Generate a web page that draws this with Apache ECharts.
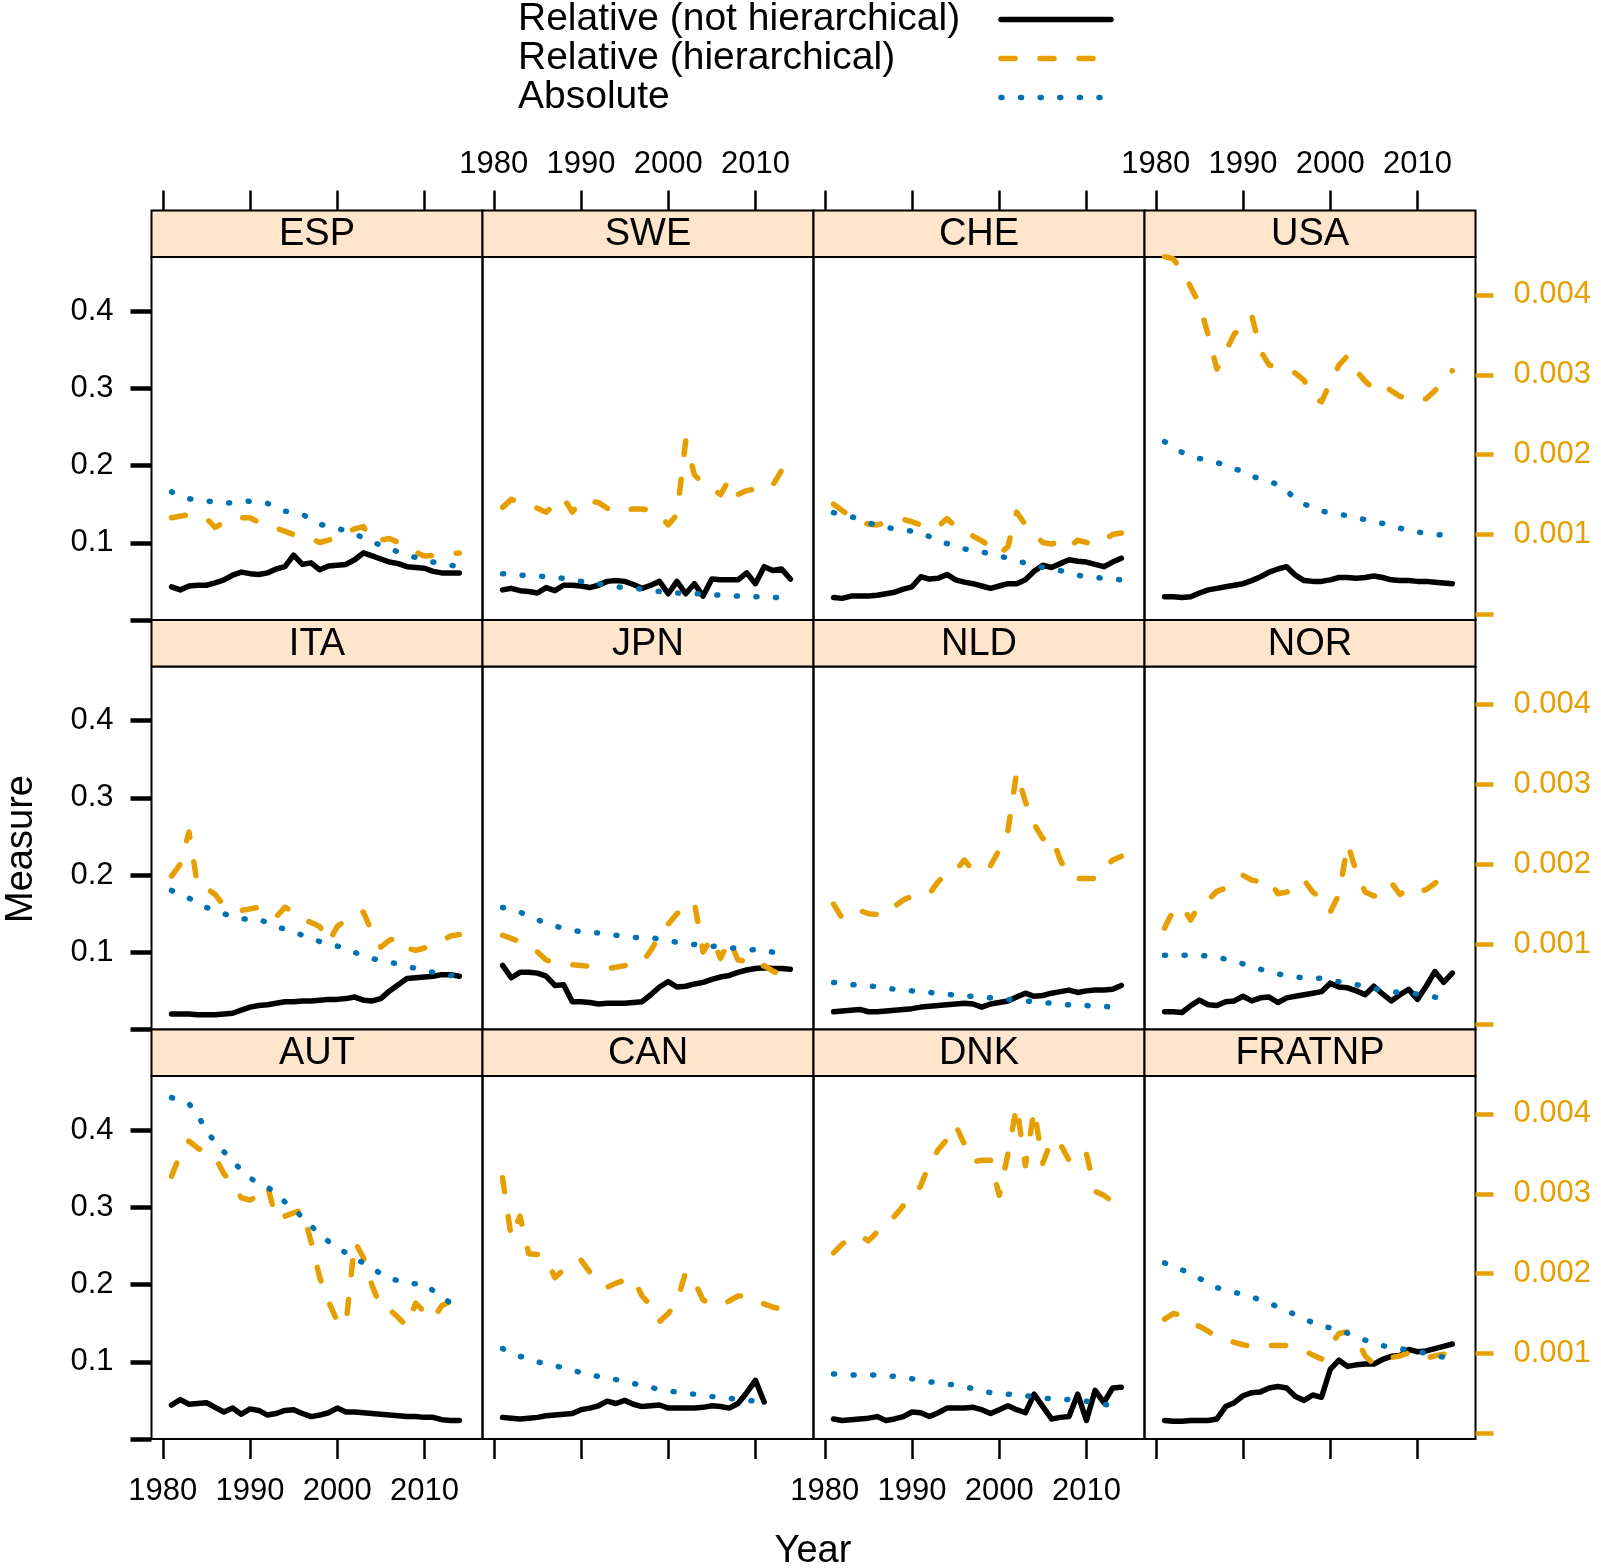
<!DOCTYPE html>
<html><head><meta charset="utf-8">
<script src="https://cdn.jsdelivr.net/npm/echarts@6/dist/echarts.min.js"></script>
<style>html,body{margin:0;padding:0;background:#fff}#c{width:1601px;height:1568px}</style>
</head><body><div id="c"></div>
<script>
// ---------- data ----------
const years = [1981,1982,1983,1984,1985,1986,1987,1988,1989,1990,1991,1992,1993,1994,1995,1996,1997,1998,1999,2000,2001,2002,2003,2004,2005,2006,2007,2008,2009,2010,2011,2012,2013,2014];
const countries = ['ESP','SWE','CHE','USA','ITA','JPN','NLD','NOR','AUT','CAN','DNK','FRATNP'];
const seriesNames = ['Relative (not hierarchical)','Relative (hierarchical)','Absolute'];
const xTicks = [1980,1990,2000,2010];
const leftTicks = [0,0.1,0.2,0.3,0.4];
const leftLabels = [0.1,0.2,0.3,0.4];
const rightTicks = [0,0.001,0.002,0.003,0.004];
const rightLabels = [0.001,0.002,0.003,0.004];

const ESP_rel = [.043,.039,.044,.045,.045,.048,.052,.058,.062,.060,.059,.061,.066,.069,.084,.072,.074,.065,.070,.071,.072,.078,.087,.083,.079,.075,.073,.069,.068,.067,.063,.061,.061,.061];
const ESP_hier = [.00121,.00123,.00125,.00122,.00120,.00109,.00115,.00121,.00121,.00121,.00115,.00111,.00108,.00104,.00100,.00098,.00095,.00090,.00093,.00097,.00103,.00107,.00110,.00092,.00093,.00095,.00090,.00082,.00078,.00073,.00074,.00075,.00076,.00077];
const ESP_abs = [.166,.161,.157,.155,.154,.153,.151,.152,.153,.154,.153,.151,.146,.141,.139,.137,.130,.124,.121,.119,.115,.112,.106,.101,.097,.093,.088,.084,.081,.078,.075,.073,.071,.069];

const SWE_rel = [.039,.041,.038,.037,.035,.042,.038,.045,.045,.044,.042,.045,.050,.051,.050,.046,.041,.045,.050,.034,.050,.034,.047,.031,.053,.052,.052,.052,.061,.047,.069,.064,.066,.053];
const SWE_hier = [.00134,.00144,.00140,.00135,.00133,.00128,.00138,.00146,.00128,.00142,.00142,.00140,.00133,.00128,.00131,.00132,.00132,.00130,.00125,.00112,.00125,.00217,.00175,.00163,.00158,.00150,.00169,.00150,.00155,.00157,.00155,.00162,.00180,.00165];
const SWE_abs = [.060,.059,.058,.058,.057,.056,.055,.054,.052,.050,.048,.047,.045,.043,.042,.041,.040,.038,.037,.036,.035,.034,.034,.034,.033,.032,.032,.031,.031,.030,.030,.029,.029,.028];

const CHE_rel = [.029,.028,.031,.031,.031,.032,.034,.036,.040,.043,.056,.053,.054,.059,.052,.049,.047,.044,.041,.044,.047,.047,.052,.063,.071,.068,.073,.078,.076,.075,.072,.069,.075,.080];
const CHE_hier = [.00138,.00130,.00122,.00116,.00113,.00112,.00115,.00118,.00119,.00116,.00112,.00108,.00110,.00120,.00110,.00105,.00098,.00092,.00085,.00075,.00085,.00128,.00112,.00100,.00090,.00088,.00092,.00084,.00093,.00090,.00087,.00093,.00100,.00102];
const CHE_abs = [.139,.136,.134,.130,.126,.122,.120,.118,.117,.115,.113,.108,.103,.099,.095,.092,.090,.088,.086,.083,.080,.076,.074,.071,.068,.066,.064,.061,.058,.056,.055,.054,.053,.052];

const USA_rel = [.030,.030,.029,.030,.035,.039,.041,.043,.045,.047,.051,.056,.062,.066,.069,.058,.051,.050,.050,.052,.055,.055,.054,.055,.057,.055,.052,.051,.051,.050,.050,.049,.048,.047];
const USA_hier = [.00448,.00445,.00430,.00410,.00388,.00350,.00307,.00329,.00351,.00362,.00374,.00330,.00312,.00310,.00307,.00302,.00293,.00272,.00266,.00290,.00312,.00324,.00305,.00292,.00282,.00288,.00280,.00273,.00270,.00267,.00270,.00280,.00292,.00305];
const USA_abs = [.231,.224,.217,.213,.209,.207,.204,.200,.196,.192,.186,.183,.180,.175,.168,.156,.150,.146,.141,.139,.137,.135,.132,.130,.128,.125,.122,.119,.115,.114,.112,.111,.110,.109];

const ITA_rel = [.020,.020,.020,.019,.019,.019,.020,.021,.025,.029,.031,.032,.034,.036,.036,.037,.037,.038,.039,.039,.040,.042,.038,.037,.040,.050,.058,.066,.067,.068,.069,.071,.071,.069];
const ITA_hier = [.00185,.00200,.00240,.00172,.00170,.00162,.00148,.00144,.00142,.00144,.00146,.00138,.00134,.00146,.00140,.00131,.00127,.00122,.00102,.00122,.00130,.00136,.00140,.00115,.00096,.00105,.00108,.00095,.00092,.00095,.00100,.00104,.00110,.00112];
const ITA_abs = [.180,.175,.170,.164,.158,.154,.150,.146,.143,.143,.143,.138,.133,.130,.127,.122,.118,.114,.111,.108,.105,.100,.095,.092,.089,.087,.085,.082,.079,.077,.074,.072,.070,.069];

const JPN_rel = [.083,.067,.074,.074,.073,.069,.057,.058,.036,.036,.035,.033,.034,.034,.034,.035,.036,.045,.055,.062,.055,.056,.059,.061,.065,.068,.070,.074,.077,.079,.080,.079,.079,.078];
const JPN_hier = [.00111,.00107,.00103,.00096,.00090,.00080,.00076,.00075,.00074,.00073,.00072,.00070,.00069,.00071,.00073,.00075,.00077,.00092,.00110,.00125,.00138,.00145,.00152,.00090,.00108,.00082,.00105,.00080,.00078,.00068,.00073,.00066,.00062,.00066];
const JPN_abs = [.158,.155,.152,.147,.142,.138,.134,.131,.128,.127,.126,.125,.124,.122,.121,.119,.119,.119,.117,.115,.113,.111,.110,.109,.108,.107,.106,.105,.104,.103,.103,.100,.096,.094];

const NLD_rel = [.023,.024,.025,.026,.023,.023,.024,.025,.026,.027,.029,.030,.031,.032,.033,.034,.033,.029,.033,.035,.037,.042,.047,.043,.044,.047,.049,.051,.048,.050,.051,.051,.052,.057];
const NLD_hier = [.00150,.00132,.00138,.00142,.00138,.00137,.00136,.00147,.00155,.00160,.00162,.00163,.00178,.00189,.00192,.00205,.00192,.00194,.00198,.00218,.00242,.00315,.00278,.00250,.00232,.00236,.00205,.00185,.00182,.00182,.00182,.00195,.00205,.00210];
const NLD_abs = [.061,.060,.058,.058,.057,.055,.054,.052,.051,.050,.049,.048,.047,.046,.044,.043,.043,.042,.041,.040,.039,.038,.037,.036,.035,.034,.033,.032,.031,.031,.030,.030,.029,.029];

const NOR_rel = [.023,.023,.022,.031,.038,.032,.031,.036,.037,.043,.037,.041,.042,.035,.041,.043,.045,.047,.049,.060,.055,.054,.050,.045,.056,.046,.037,.045,.052,.039,.056,.075,.061,.073];
const NOR_hier = [.00120,.00142,.00147,.00130,.00150,.00155,.00166,.00170,.00175,.00186,.00180,.00178,.00180,.00163,.00165,.00169,.00180,.00165,.00157,.00140,.00162,.00225,.00190,.00165,.00160,.00165,.00177,.00162,.00170,.00165,.00168,.00176,.00185,.00180];
const NOR_abs = [.096,.096,.096,.096,.096,.095,.094,.091,.088,.085,.082,.078,.075,.072,.070,.068,.067,.067,.066,.064,.062,.060,.058,.056,.053,.051,.049,.048,.047,.046,.044,.042,.040,.039];

const AUT_rel = [.044,.051,.045,.046,.047,.041,.035,.040,.032,.039,.037,.031,.033,.037,.038,.033,.029,.031,.034,.040,.035,.035,.034,.033,.032,.031,.030,.029,.029,.028,.028,.025,.024,.024];
const AUT_hier = [.00322,.00350,.00366,.00357,.00352,.00346,.00325,.00312,.00295,.00292,.00298,.00310,.00268,.00272,.00276,.00280,.00240,.00195,.00165,.00141,.00136,.00240,.00220,.00185,.00158,.00155,.00145,.00134,.00163,.00152,.00143,.00160,.00165,.00170];
const AUT_abs = [.442,.438,.434,.420,.398,.385,.372,.360,.348,.338,.331,.326,.318,.307,.298,.287,.276,.265,.256,.248,.241,.234,.228,.221,.214,.208,.205,.201,.201,.201,.192,.184,.176,.170];

const CAN_rel = [.028,.027,.026,.027,.028,.030,.031,.032,.033,.038,.040,.043,.049,.046,.050,.045,.042,.043,.044,.040,.040,.040,.040,.041,.043,.042,.040,.046,.060,.076,.048,null,null,null];
const CAN_hier = [.00320,.00245,.00272,.00225,.00224,.00220,.00195,.00205,.00215,.00217,.00202,.00190,.00183,.00188,.00192,.00194,.00172,.00160,.00140,.00150,.00165,.00202,.00190,.00167,.00162,.00160,.00166,.00172,.00172,.00169,.00162,.00158,.00156,.00154];
const CAN_abs = [.117,.112,.107,.104,.100,.097,.095,.092,.089,.086,.083,.081,.079,.077,.075,.072,.069,.067,.064,.062,.061,.059,.058,.057,.055,.054,.053,.051,.050,.049,.048,null,null,null];

const DNK_rel = [.026,.024,.025,.026,.027,.029,.024,.026,.029,.035,.034,.029,.034,.040,.040,.040,.041,.038,.033,.038,.043,.038,.034,.058,.042,.026,.028,.029,.058,.024,.063,.047,.066,.067];
const DNK_hier = [.00226,.00237,.00245,.00248,.00241,.00252,.00260,.00272,.00285,.00295,.00310,.00338,.00355,.00368,.00386,.00362,.00340,.00342,.00342,.00298,.00350,.00410,.00335,.00405,.00338,.00368,.00362,.00342,.00355,.00350,.00303,.00298,.00290,.00276];
const DNK_abs = [.084,.084,.083,.083,.083,.083,.082,.081,.080,.078,.076,.074,.073,.071,.070,.068,.065,.062,.060,.059,.058,.057,.056,.055,.053,.052,.052,.051,.050,.049,.047,.045,.043,.042];

const FRATNP_rel = [.024,.023,.023,.024,.024,.024,.026,.042,.047,.056,.060,.061,.066,.068,.066,.055,.050,.057,.054,.090,.102,.094,.096,.097,.097,.103,.107,.108,.116,.113,.114,.117,.120,.123];
const FRATNP_hier = [.00143,.00150,.00148,.00138,.00134,.00128,.00120,.00118,.00114,.00111,.00109,.00110,.00110,.00110,.00110,.00107,.00104,.00098,.00093,.00110,.00125,.00127,.00120,.00097,.00087,.00093,.00095,.00097,.00101,.00095,.00094,.00097,.00099,.00096];
const FRATNP_abs = [.228,.224,.219,.214,.208,.202,.196,.193,.190,.187,.184,.180,.176,.171,.166,.161,.155,.151,.146,.144,.142,.137,.132,.128,.125,.121,.118,.117,.115,.113,.111,.108,.106,.104];

const panelData = {
  ESP:[ESP_rel,ESP_hier,ESP_abs], SWE:[SWE_rel,SWE_hier,SWE_abs], CHE:[CHE_rel,CHE_hier,CHE_abs], USA:[USA_rel,USA_hier,USA_abs],
  ITA:[ITA_rel,ITA_hier,ITA_abs], JPN:[JPN_rel,JPN_hier,JPN_abs], NLD:[NLD_rel,NLD_hier,NLD_abs], NOR:[NOR_rel,NOR_hier,NOR_abs],
  AUT:[AUT_rel,AUT_hier,AUT_abs], CAN:[CAN_rel,CAN_hier,CAN_abs], DNK:[DNK_rel,DNK_hier,DNK_abs], FRATNP:[FRATNP_rel,FRATNP_hier,FRATNP_abs]
};

// ---------- layout / style ----------
const FONT = "'Liberation Sans', Arial, Helvetica, sans-serif";
const ORANGE = '#E69F00', BLUE = '#0072B2', STRIP = '#FFE5CC';
const X0 = 151.5, PW = 331, TOP0 = 210.5, PITCH = 409.5, STRIP_H = 46.5, PLOT_H = 363;
const X_MIN = 1978.7, X_MAX = 2016.66, L_MIN = 0, L_MAX = 0.470, R_MIN = -0.00007, R_MAX = 0.004474;

const styles = [
  {color:'#000', width:5.5, type:'solid', cap:'round', join:'round'},
  {color:ORANGE, width:5.5, type:[14,25], cap:'round', join:'round'},
  {color:BLUE, width:5.5, type:[1,18.6], cap:'round', join:'round'}
];
const noLine = {show: false, onZero: false};

const grid = [], xAxis = [], yAxis = [], series = [], graphic = [];
const N = countries.length;
countries.forEach((cn, i) => {
  const r = Math.floor(i / 4), c = i % 4;
  const left = X0 + PW * c, stripTop = TOP0 + PITCH * r, top = stripTop + STRIP_H;
  grid.push({left, top, width: PW, height: PLOT_H, show: true, borderColor: '#000', borderWidth: 2, backgroundColor: 'rgba(0,0,0,0)'});
  xAxis.push({
    gridIndex: i, type: 'value', min: X_MIN, max: X_MAX, position: 'bottom',
    axisLine: noLine, splitLine: {show: false},
    axisTick: {show: r === 2, length: 20, customValues: xTicks, lineStyle: {color: '#000', width: 2.5}},
    axisLabel: {show: r === 2 && c % 2 === 0, customValues: xTicks, margin: 37, fontSize: 31, color: '#000', fontFamily: FONT, formatter: v => String(v)}
  });
  yAxis.push({
    gridIndex: i, type: 'value', position: 'left', min: L_MIN, max: L_MAX,
    axisLine: noLine, splitLine: {show: false},
    axisTick: {show: c === 0, length: 21, customValues: leftTicks, lineStyle: {color: '#000', width: 4.5}},
    axisLabel: {show: c === 0, customValues: leftLabels, margin: 38, fontSize: 31, color: '#000', fontFamily: FONT, formatter: v => v.toFixed(1)}
  });
  yAxis.push({
    gridIndex: i, type: 'value', position: 'right', min: R_MIN, max: R_MAX,
    axisLine: noLine, splitLine: {show: false},
    axisTick: {show: c === 3, length: 18, customValues: rightTicks, lineStyle: {color: ORANGE, width: 4.5}},
    axisLabel: {show: c === 3, customValues: rightLabels, margin: 38, fontSize: 31, color: ORANGE, fontFamily: FONT, formatter: v => v.toFixed(3)}
  });
  const d = panelData[cn];
  [0, 1, 2].forEach(k => {
    const pts = [];
    years.forEach((y, j) => { if (d[k][j] !== null) pts.push([y, d[k][j]]); });
    series.push({
      type: 'line', name: seriesNames[k], xAxisIndex: i, yAxisIndex: 2 * i + (k === 1 ? 1 : 0),
      data: pts, symbol: 'none', showSymbol: false, silent: true, animation: false,
      lineStyle: styles[k], itemStyle: {color: styles[k].color}, z: 2 + (k === 2 ? 1 : 0)
    });
  });
});
// strip grids (one per panel), carrying the top year axis on the first row
countries.forEach((cn, i) => {
  const r = Math.floor(i / 4), c = i % 4;
  const left = X0 + PW * c, stripTop = TOP0 + PITCH * r;
  grid.push({left, top: stripTop, width: PW, height: STRIP_H, show: true, borderColor: '#000', borderWidth: 2, backgroundColor: STRIP});
  xAxis.push({
    gridIndex: N + i, type: 'value', min: X_MIN, max: X_MAX, position: 'top',
    axisLine: noLine, splitLine: {show: false},
    axisTick: {show: r === 0, inside: false, length: 20, customValues: xTicks, lineStyle: {color: '#000', width: 2.5}},
    axisLabel: {show: r === 0 && c % 2 === 1, customValues: xTicks, margin: 31, fontSize: 31, color: '#000', fontFamily: FONT, formatter: v => String(v)}
  });
  yAxis.push({gridIndex: N + i, type: 'value', min: 0, max: 1, show: false, axisLine: noLine});
  graphic.push({type: 'text', x: left + PW / 2, y: stripTop + STRIP_H / 2 + 1, style: {text: cn, fontSize: 38, fontFamily: FONT, fill: '#000', align: 'center', verticalAlign: 'middle'}, z: 11});
});
graphic.push({type: 'text', x: 22, y: 849, rotation: Math.PI / 2, style: {text: 'Measure', fontSize: 38, fontFamily: FONT, fill: '#000', align: 'center', verticalAlign: 'middle'}});
graphic.push({type: 'text', x: 813, y: 1552, style: {text: 'Year', fontSize: 38, fontFamily: FONT, fill: '#000', align: 'center', verticalAlign: 'middle'}});

const option = {
  backgroundColor: '#fff',
  animation: false,
  legend: {
    orient: 'vertical', left: 518, top: 0, align: 'right', selectedMode: false,
    itemWidth: 110, itemHeight: 30, itemGap: 0, padding: 0,
    data: seriesNames,
    lineStyle: {width: 5.5},
    itemStyle: {opacity: 0},
    formatter: name => '{t|' + name + '}',
    textStyle: {fontSize: 39, color: '#000', fontFamily: FONT, lineHeight: 37.5,
      rich: {t: {width: 478, fontSize: 39, fontFamily: FONT, color: '#000', lineHeight: 37.5, align: 'left'}}}
  },
  grid, xAxis, yAxis, series, graphic
};
const chart = echarts.init(document.getElementById('c'), null, {renderer: 'canvas'});
chart.setOption(option);
</script></body></html>
